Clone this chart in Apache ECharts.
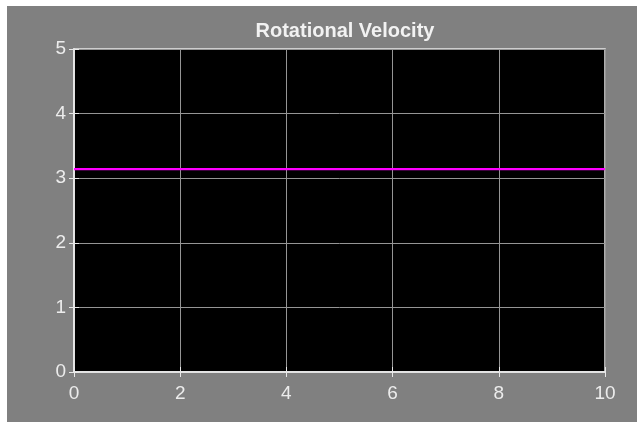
<!DOCTYPE html>
<html>
<head>
<meta charset="utf-8">
<script src="https://cdn.jsdelivr.net/npm/echarts@6/dist/echarts.min.js"></script>
<style>
html,body{margin:0;padding:0;background:#fff;}
#c{position:absolute;left:7px;top:6px;width:630px;height:416px;background:#808080;}
</style>
</head>
<body>
<div id="c"></div>
<script>
const titleText = 'Rotational Velocity';
const xValues = [0, 10];
const velocity = [3.14159, 3.14159];
const xTicks = [0, 2, 4, 6, 8, 10];
const yTicks = [0, 1, 2, 3, 4, 5];

const lineData = xValues.map((x, i) => [x, velocity[i]]);
const font = '"Liberation Sans", Arial, Helvetica, sans-serif';
const chart = echarts.init(document.getElementById('c'));
const frame = '#e8e8e8';
const gridCol = '#959595';
chart.setOption({
  animation: false,
  backgroundColor: '#808080',
  title: {
    text: titleText, left: 333, top: 10, textAlign: 'center',
    textStyle: {color: '#f2f2f2', fontSize: 20, fontWeight: 'bold', fontFamily: font}
  },
  grid: {left: 67, top: 43, right: 32, bottom: 50, show: true,
    backgroundColor: '#000', borderColor: frame, borderWidth: 1.5},
  xAxis: [{
    type: 'value', min: xTicks[0], max: xTicks[xTicks.length-1], interval: 2,
    axisLine: {show: true, onZero: false, lineStyle: {color: frame, width: 1.5}},
    axisTick: {show: true, inside: true, length: 5, lineStyle: {color: frame}},
    axisLabel: {color: '#ececec', fontSize: 19, fontFamily: font, margin: 12},
    splitLine: {show: true, lineStyle: {color: gridCol, width: 1}}
  }, {
    type: 'value', position: 'top', min: 0, max: 10, interval: 2,
    axisLine: {show: true, lineStyle: {color: frame, width: 1.5}},
    axisTick: {show: true, inside: true, length: 5, lineStyle: {color: frame}},
    axisLabel: {show: false}, splitLine: {show: false}
  }],
  yAxis: [{
    type: 'value', min: yTicks[0], max: yTicks[yTicks.length-1], interval: 1,
    axisLine: {show: true, onZero: false, lineStyle: {color: frame, width: 1.5}},
    axisTick: {show: true, inside: true, length: 5, lineStyle: {color: frame}},
    axisLabel: {color: '#ececec', fontSize: 19, fontFamily: font, margin: 8},
    splitLine: {show: true, lineStyle: {color: gridCol, width: 1}}
  }, {
    type: 'value', position: 'right', min: 0, max: 5, interval: 1,
    axisLine: {show: true, lineStyle: {color: frame, width: 1.5}},
    axisTick: {show: true, inside: true, length: 5, lineStyle: {color: frame}},
    axisLabel: {show: false}, splitLine: {show: false}
  }],
  series: [{
    type: 'line', data: lineData, showSymbol: false, symbol: 'none',
    lineStyle: {color: '#ff00ff', width: 2.2}
  }]
});
</script>
</body>
</html>
